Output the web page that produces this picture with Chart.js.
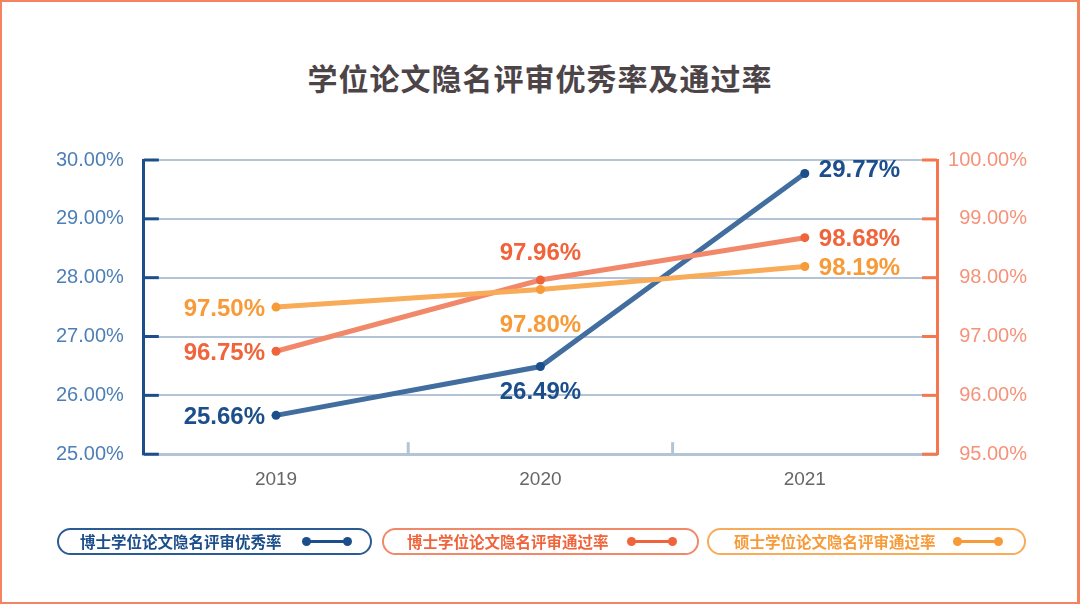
<!DOCTYPE html>
<html>
<head>
<meta charset="utf-8">
<script src="https://cdn.jsdelivr.net/npm/chart.js@4.4.1/dist/chart.umd.min.js"></script>
<style>
    html, body { margin: 0; padding: 0; background: #fff; }
    #frame {
        position: relative;
        width: 1080px;
        height: 604px;
        box-sizing: border-box;
        border: 2px solid #f4845f;
        border-right-width: 3px;
        overflow: hidden;
        font-family: "Noto Sans CJK SC", "Noto Sans", sans-serif;
    }
    #title {
        position: absolute;
        left: 0;
        width: 1076px;
        top: 53px;
        text-align: center;
        font-size: 30px;
        font-weight: 700;
        color: #4d4448;
        letter-spacing: 1px;
    }
    #chartBox { position: absolute; left: -2px; top: -2px; width: 1080px; height: 604px; }
    .pill {
        position: absolute;
        top: 526px;
        height: 27px;
        box-sizing: border-box;
        border: 2px solid;
        border-radius: 14px;
        font-size: 15.5px;
        font-weight: 700;
        line-height: 23px;
    }
    .pill span { position: absolute; top: 0; }
    .pill i {
        position: absolute;
        top: 10px;
        height: 3px;
    }
    .pill i::before, .pill i::after {
        content: "";
        position: absolute;
        top: -3px;
        width: 9px;
        height: 9px;
        border-radius: 50%;
        background: inherit;
    }
    .pill i::before { left: -4px; }
    .pill i::after { right: -4px; }
</style>
</head>
<body>
<div id="frame">
    <div id="title">学位论文隐名评审优秀率及通过率</div>
    <div id="chartBox"><canvas id="rateChart"></canvas></div>
    <div id="legendBox"></div>
</div>
<script>
//#region Data
const years = ["2019", "2020", "2021"];
const seriesNames = ["博士学位论文隐名评审优秀率", "博士学位论文隐名评审通过率", "硕士学位论文隐名评审通过率"];
const phdExcellent = [25.66, 26.49, 29.77];
const phdPass = [96.75, 97.96, 98.68];
const masterPass = [97.50, 97.80, 98.19];
//#endregion

//#region Styles
const lineColors = ["#416d9f", "#f2886a", "#f8ab58"];
const dotColors = ["#1b4e8a", "#f0643c", "#f79a38"];
const labelSpots = [
    ["left", "below", "right"],
    ["left", "above", "right"],
    ["left", "below", "right"]
];
const gridColor = "#b3c4d6";
const axisFont = "'Liberation Sans', Arial, sans-serif";
//#endregion

//#region Inner Ticks And Value Labels
const decorPlugin = {
    id: "decor",
    afterDatasetsDraw(chart) {
        const ctx = chart.ctx;
        const area = chart.chartArea;
        const yL = chart.scales.y;
        const yR = chart.scales.y1;
        const x = chart.scales.x;
        ctx.save();
        ctx.lineWidth = 3;
        ctx.strokeStyle = "#1b4e8a";
        yL.ticks.forEach((t, i) => {
            const py = yL.getPixelForTick(i);
            ctx.beginPath();
            ctx.moveTo(area.left, py);
            ctx.lineTo(area.left + 15, py);
            ctx.stroke();
        });
        ctx.strokeStyle = "#f4774f";
        yR.ticks.forEach((t, i) => {
            const py = yR.getPixelForTick(i);
            ctx.beginPath();
            ctx.moveTo(area.right, py);
            ctx.lineTo(area.right - 15, py);
            ctx.stroke();
        });
        ctx.strokeStyle = gridColor;
        for (let i = 0; i < years.length - 1; i++) {
            const px = (x.getPixelForValue(i) + x.getPixelForValue(i + 1)) / 2;
            ctx.beginPath();
            ctx.moveTo(px, area.bottom);
            ctx.lineTo(px, area.bottom - 12);
            ctx.stroke();
        }
        ctx.font = "bold 24px " + axisFont;
        ctx.textBaseline = "middle";
        chart.data.datasets.forEach((ds, di) => {
            const meta = chart.getDatasetMeta(di);
            meta.data.forEach((pt, i) => {
                const txt = ds.data[i].toFixed(2) + "%";
                const spot = labelSpots[di][i];
                ctx.fillStyle = dotColors[di];
                if (spot === "left") {
                    ctx.textAlign = "right";
                    ctx.fillText(txt, pt.x - 11, pt.y + 2);
                } else if (spot === "right") {
                    ctx.textAlign = "left";
                    ctx.fillText(txt, pt.x + 14, pt.y + (di === 0 ? -3 : 2));
                } else if (spot === "above") {
                    ctx.textAlign = "center";
                    ctx.fillText(txt, pt.x, pt.y - 27);
                } else {
                    ctx.textAlign = "center";
                    ctx.fillText(txt, pt.x, pt.y + (di === 0 ? 26 : 36));
                }
            });
        });
        ctx.restore();
    }
};
//#endregion

//#region Load Rate Chart
function LoadRateChart() {
    const element = document.querySelector("#rateChart");
    const values = [phdExcellent, phdPass, masterPass];
    const axes = ["y", "y1", "y1"];
    new Chart(element, {
        type: "line",
        data: {
            labels: years,
            datasets: values.map((v, i) => ({
                label: seriesNames[i],
                data: v,
                yAxisID: axes[i],
                borderColor: lineColors[i],
                borderWidth: 5,
                pointRadius: 4.5,
                pointBackgroundColor: dotColors[i],
                pointBorderWidth: 0,
                lineTension: 0,
                fill: false,
                order: 2 - i
            }))
        },
        options: {
            responsive: true,
            maintainAspectRatio: false,
            animation: false,
            layout: { padding: { top: 160, bottom: 99, left: 36, right: 53 } },
            plugins: {
                legend: { display: false },
                tooltip: { enabled: false }
            },
            scales: {
                x: {
                    offset: true,
                    grid: { display: false, drawTicks: false },
                    border: { color: gridColor, width: 3 },
                    ticks: {
                        color: "#666",
                        padding: 14,
                        font: { family: axisFont, size: 19 }
                    }
                },
                y: {
                    position: "left",
                    min: 25,
                    max: 30,
                    grid: { color: gridColor, lineWidth: 2, drawTicks: false },
                    border: { color: "#1b4e8a", width: 3 },
                    ticks: {
                        stepSize: 1,
                        padding: 20,
                        color: "#4d7fb6",
                        font: { family: axisFont, size: 20 },
                        callback: v => v.toFixed(2) + "%"
                    }
                },
                y1: {
                    position: "right",
                    min: 95,
                    max: 100,
                    afterFit: scale => { scale.width = 90; },
                    grid: { drawOnChartArea: false, drawTicks: false },
                    border: { color: "#f4774f", width: 3 },
                    ticks: {
                        stepSize: 1,
                        padding: 14,
                        crossAlign: "far",
                        color: "#f5937a",
                        font: { family: axisFont, size: 20 },
                        callback: v => v.toFixed(2) + "%"
                    }
                }
            }
        },
        plugins: [decorPlugin]
    });
}
//#endregion

//#region Load Legend
function LoadLegend() {
    const box = document.querySelector("#legendBox");
    const pills = [
        { left: 55, width: 315, text: 21, mark: 247 },
        { left: 380, width: 317, text: 23, mark: 247 },
        { left: 705, width: 319, text: 25, mark: 248 }
    ];
    pills.forEach((p, i) => {
        const div = document.createElement("div");
        div.className = "pill";
        div.style.left = p.left + "px";
        div.style.width = p.width + "px";
        div.style.borderColor = i === 0 ? "#2b5b94" : lineColors[i];
        div.style.color = dotColors[i];
        const span = document.createElement("span");
        span.style.left = p.text + "px";
        span.textContent = seriesNames[i];
        const mark = document.createElement("i");
        mark.style.left = p.mark + "px";
        mark.style.width = "42px";
        mark.style.background = dotColors[i];
        div.appendChild(span);
        div.appendChild(mark);
        box.appendChild(div);
    });
}
//#endregion

window.addEventListener("DOMContentLoaded", () => {
    LoadRateChart();
    LoadLegend();
});
</script>
</body>
</html>
